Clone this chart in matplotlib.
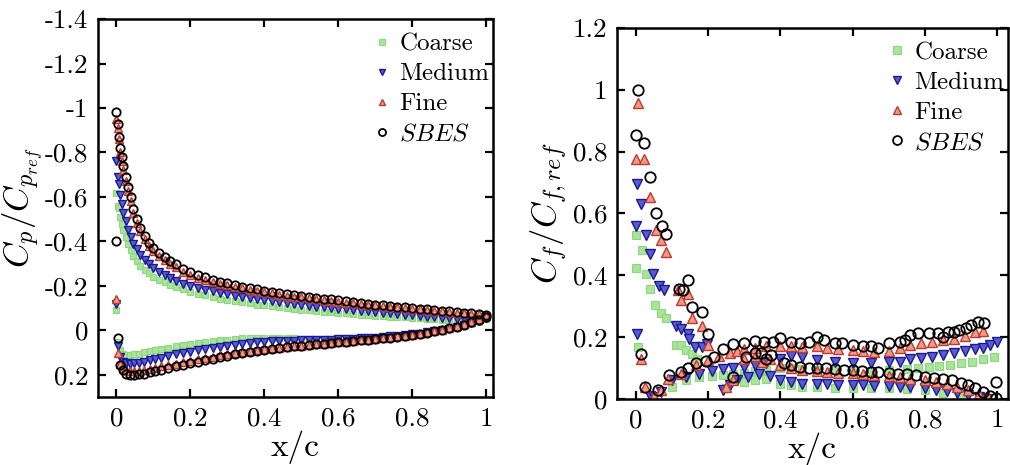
import matplotlib
matplotlib.use("Agg")
import matplotlib.pyplot as plt
from matplotlib.ticker import FuncFormatter, MultipleLocator

plt.rcParams["font.family"] = "serif"
plt.rcParams["font.serif"] = ["cmr10", "DejaVu Serif"]
plt.rcParams["mathtext.fontset"] = "cm"
plt.rcParams["axes.unicode_minus"] = False
plt.rcParams["axes.formatter.use_mathtext"] = False

# ---------------- left panel: Cp / Cp,ref ----------------
x_up = [0.0, 0.003, 0.006, 0.01, 0.014, 0.019, 0.025, 0.031, 0.038, 0.046,
        0.055, 0.065, 0.076, 0.088, 0.1, 0.115, 0.13, 0.145, 0.16, 0.18, 0.2,
        0.22, 0.24, 0.26, 0.28, 0.3, 0.32, 0.34, 0.36, 0.38, 0.4,
        0.42, 0.44, 0.46, 0.48, 0.5, 0.52, 0.54, 0.56, 0.58, 0.6,
        0.62, 0.64, 0.66, 0.68, 0.7, 0.72, 0.74, 0.76, 0.78, 0.8,
        0.82, 0.84, 0.86, 0.88, 0.9, 0.92, 0.94, 0.96, 0.98, 1.0]

cp_up_sbes = [-0.98, -0.93, -0.87, -0.82, -0.78, -0.74, -0.69, -0.645, -0.60, -0.545,
              -0.50, -0.46, -0.425, -0.395, -0.37, -0.35, -0.33, -0.312, -0.297, -0.278, -0.262,
              -0.249, -0.238, -0.228, -0.219, -0.211, -0.203, -0.196, -0.19, -0.184, -0.178,
              -0.173, -0.168, -0.163, -0.159, -0.155, -0.151, -0.147, -0.143, -0.139, -0.135,
              -0.131, -0.127, -0.123, -0.119, -0.115, -0.112, -0.109, -0.106, -0.103, -0.1,
              -0.097, -0.094, -0.091, -0.088, -0.085, -0.082, -0.079, -0.076, -0.073, -0.07]
cp_up_fine = [-0.95, -0.91, -0.86, -0.80, -0.76, -0.72, -0.67, -0.625, -0.58, -0.53,
              -0.485, -0.445, -0.41, -0.38, -0.355, -0.335, -0.315, -0.298, -0.283, -0.264, -0.248,
              -0.236, -0.226, -0.217, -0.209, -0.202, -0.195, -0.189, -0.183, -0.177, -0.171,
              -0.166, -0.161, -0.156, -0.152, -0.148, -0.144, -0.14, -0.136, -0.132, -0.128,
              -0.125, -0.122, -0.119, -0.116, -0.113, -0.11, -0.107, -0.104, -0.101, -0.098,
              -0.095, -0.092, -0.089, -0.086, -0.083, -0.08, -0.077, -0.074, -0.072, -0.07]
cp_up_medium = [-0.76, -0.69, -0.66, -0.61, -0.57, -0.53, -0.49, -0.45, -0.42, -0.39,
                -0.365, -0.34, -0.318, -0.298, -0.28, -0.262, -0.247, -0.234, -0.223, -0.21, -0.199,
                -0.19, -0.182, -0.175, -0.168, -0.162, -0.156, -0.15, -0.145, -0.14, -0.135,
                -0.13, -0.126, -0.122, -0.118, -0.114, -0.11, -0.107, -0.104, -0.101, -0.098,
                -0.095, -0.092, -0.089, -0.086, -0.083, -0.08, -0.077, -0.074, -0.071, -0.068,
                -0.065, -0.062, -0.059, -0.056, -0.054, -0.052, -0.05, -0.049, -0.05, -0.055]
cp_up_coarse = [-0.62, -0.56, -0.55, -0.51, -0.48, -0.45, -0.42, -0.39, -0.36, -0.335,
                -0.31, -0.29, -0.272, -0.256, -0.242, -0.228, -0.216, -0.205, -0.196, -0.184, -0.174,
                -0.165, -0.157, -0.15, -0.143, -0.137, -0.131, -0.126, -0.121, -0.116, -0.112,
                -0.108, -0.104, -0.1, -0.096, -0.093, -0.09, -0.087, -0.084, -0.081, -0.078,
                -0.076, -0.073, -0.071, -0.068, -0.066, -0.064, -0.062, -0.06, -0.058, -0.056,
                -0.054, -0.052, -0.05, -0.048, -0.047, -0.046, -0.045, -0.045, -0.047, -0.05]

x_lo = [0.0, 0.004, 0.01, 0.018, 0.027, 0.037, 0.048, 0.06, 0.075, 0.09,
        0.105, 0.12, 0.14, 0.16, 0.18, 0.2,
        0.22, 0.24, 0.26, 0.28, 0.3, 0.32, 0.34, 0.36, 0.38, 0.4,
        0.42, 0.44, 0.46, 0.48, 0.5, 0.52, 0.54, 0.56, 0.58, 0.6,
        0.62, 0.64, 0.66, 0.68, 0.7, 0.72, 0.74, 0.76, 0.78, 0.8,
        0.82, 0.84, 0.86, 0.88, 0.9, 0.92, 0.94, 0.96, 0.98, 1.0]

cp_lo_sbes = [-0.40, 0.035, 0.155, 0.18, 0.195, 0.2, 0.2, 0.198, 0.194, 0.188,
              0.182, 0.177, 0.17, 0.162, 0.155, 0.148,
              0.141, 0.134, 0.127, 0.12, 0.114, 0.108, 0.102, 0.097, 0.092, 0.088,
              0.084, 0.08, 0.076, 0.072, 0.069, 0.066, 0.063, 0.06, 0.057, 0.054,
              0.051, 0.048, 0.045, 0.042, 0.039, 0.036, 0.032, 0.028, 0.024, 0.02,
              0.015, 0.01, 0.004, -0.002, -0.009, -0.017, -0.026, -0.036, -0.048, -0.062]
cp_lo_fine = [-0.14, 0.10, 0.15, 0.17, 0.18, 0.183, 0.183, 0.181, 0.177, 0.172,
              0.167, 0.162, 0.156, 0.149, 0.142, 0.136,
              0.13, 0.124, 0.118, 0.112, 0.107, 0.102, 0.097, 0.093, 0.089, 0.085,
              0.081, 0.077, 0.074, 0.071, 0.068, 0.065, 0.062, 0.059, 0.056, 0.053,
              0.05, 0.047, 0.044, 0.041, 0.038, 0.035, 0.031, 0.027, 0.023, 0.019,
              0.014, 0.009, 0.003, -0.003, -0.01, -0.018, -0.027, -0.037, -0.049, -0.065]
cp_lo_medium = [-0.12, 0.07, 0.12, 0.14, 0.148, 0.15, 0.148, 0.145, 0.14, 0.134,
                0.128, 0.122, 0.115, 0.108, 0.101, 0.095,
                0.089, 0.083, 0.078, 0.073, 0.068, 0.064, 0.06, 0.056, 0.053, 0.05,
                0.049, 0.048, 0.047, 0.046, 0.045, 0.044, 0.043, 0.042, 0.041, 0.04,
                0.039, 0.038, 0.036, 0.034, 0.032, 0.03, 0.027, 0.024, 0.021, 0.018,
                0.014, 0.009, 0.004, -0.002, -0.008, -0.016, -0.024, -0.033, -0.043, -0.054]
cp_lo_coarse = [-0.09, 0.05, 0.09, 0.105, 0.11, 0.11, 0.108, 0.104, 0.099, 0.094,
                0.089, 0.084, 0.078, 0.072, 0.067, 0.062,
                0.057, 0.053, 0.049, 0.045, 0.042, 0.039, 0.036, 0.034, 0.032, 0.032,
                0.033, 0.034, 0.035, 0.036, 0.037, 0.037, 0.037, 0.037, 0.037, 0.036,
                0.035, 0.034, 0.033, 0.032, 0.031, 0.029, 0.027, 0.025, 0.022, 0.019,
                0.015, 0.011, 0.006, 0.0, -0.006, -0.013, -0.021, -0.03, -0.04, -0.05]

# ---------------- right panel: Cf / Cf,ref ----------------
# suction side (s) and pressure side (p) point sets
xs_sbes = [0.0, 0.006, 0.022, 0.038, 0.056, 0.072, 0.084, 0.118, 0.13, 0.145,
           0.155, 0.184, 0.2, 0.27, 0.306, 0.33, 0.345, 0.36, 0.375, 0.41,
           0.43, 0.455, 0.48, 0.5, 0.525, 0.55, 0.575, 0.6, 0.625, 0.65,
           0.67, 0.7, 0.725, 0.75, 0.775, 0.8, 0.825, 0.85, 0.875, 0.9,
           0.92, 0.94, 0.96, 0.98, 0.997]
cfs_sbes = [0.854, 1.0, 0.827, 0.717, 0.602, 0.56, 0.532, 0.357, 0.352, 0.384,
            0.297, 0.281, 0.209, 0.072, 0.137, 0.15, 0.148, 0.13, 0.142, 0.115,
            0.11, 0.105, 0.1, 0.099, 0.099, 0.097, 0.094, 0.094, 0.09, 0.088,
            0.087, 0.085, 0.082, 0.08, 0.077, 0.072, 0.067, 0.064, 0.06, 0.052,
            0.044, 0.035, 0.022, 0.01, 0.004]
xp_sbes = [0.013, 0.025, 0.06, 0.093, 0.124, 0.145, 0.165, 0.193, 0.215, 0.24,
           0.27, 0.3, 0.33, 0.355, 0.38, 0.4, 0.43, 0.455, 0.48, 0.5,
           0.52, 0.55, 0.57, 0.6, 0.63, 0.65, 0.67, 0.7, 0.73, 0.745,
           0.76, 0.78, 0.81, 0.835, 0.85, 0.865, 0.88, 0.895, 0.913, 0.927,
           0.946, 0.964, 0.998]
cfp_sbes = [0.146, 0.04, 0.03, 0.076, 0.086, 0.1, 0.116, 0.124, 0.137, 0.162,
            0.178, 0.18, 0.188, 0.185, 0.183, 0.196, 0.185, 0.18, 0.185, 0.2,
            0.19, 0.18, 0.18, 0.175, 0.17, 0.17, 0.165, 0.18, 0.185, 0.19,
            0.207, 0.212, 0.212, 0.212, 0.2, 0.218, 0.215, 0.223, 0.228, 0.239,
            0.25, 0.245, 0.055]

xs_fine = [0.006, 0.0, 0.022, 0.038, 0.056, 0.07, 0.084, 0.116, 0.125, 0.145,
           0.155, 0.184, 0.2, 0.25, 0.27, 0.3, 0.33, 0.35, 0.37, 0.4,
           0.43, 0.46, 0.5, 0.53, 0.56, 0.6, 0.63, 0.66, 0.7, 0.73,
           0.76, 0.8, 0.83, 0.86, 0.89, 0.92, 0.95, 0.975]
cfs_fine = [0.957, 0.775, 0.775, 0.652, 0.546, 0.514, 0.476, 0.351, 0.319, 0.34,
            0.263, 0.235, 0.173, 0.04, 0.06, 0.13, 0.14, 0.12, 0.13, 0.11,
            0.1, 0.095, 0.09, 0.088, 0.085, 0.083, 0.08, 0.078, 0.075, 0.07,
            0.066, 0.06, 0.055, 0.05, 0.04, 0.03, 0.015, 0.005]
xp_fine = [0.013, 0.025, 0.05, 0.07, 0.09, 0.125, 0.165, 0.2, 0.23, 0.26,
           0.28, 0.3, 0.33, 0.36, 0.4, 0.43, 0.46, 0.5, 0.53, 0.56,
           0.6, 0.63, 0.66, 0.7, 0.73, 0.76, 0.79, 0.82, 0.85, 0.88,
           0.91, 0.94, 0.96]
cfp_fine = [0.13, 0.038, 0.01, 0.03, 0.065, 0.08, 0.11, 0.125, 0.14, 0.15,
            0.155, 0.16, 0.165, 0.17, 0.17, 0.172, 0.168, 0.17, 0.165, 0.16,
            0.158, 0.155, 0.152, 0.155, 0.165, 0.175, 0.18, 0.185, 0.19, 0.195,
            0.205, 0.215, 0.22]

xs_medium = [0.002, 0.013, 0.0, 0.027, 0.038, 0.047, 0.065, 0.079, 0.11, 0.124,
             0.143, 0.147, 0.164, 0.182, 0.197, 0.24, 0.26, 0.28, 0.31, 0.34,
             0.37, 0.4, 0.43, 0.46, 0.5, 0.53, 0.56, 0.6, 0.63, 0.66,
             0.7, 0.73, 0.76, 0.8, 0.83, 0.86, 0.89, 0.92, 0.95, 0.97]
cfs_medium = [0.694, 0.632, 0.56, 0.53, 0.47, 0.405, 0.365, 0.351, 0.235, 0.227,
              0.211, 0.195, 0.168, 0.168, 0.178, 0.03, 0.045, 0.06, 0.07, 0.08,
              0.075, 0.06, 0.055, 0.05, 0.048, 0.047, 0.046, 0.045, 0.044, 0.043,
              0.042, 0.04, 0.038, 0.035, 0.03, 0.025, 0.02, 0.012, 0.005, 0.0]
xp_medium = [0.004, 0.038, 0.05, 0.07, 0.1, 0.138, 0.175, 0.21, 0.24, 0.27,
             0.3, 0.33, 0.36, 0.4, 0.43, 0.46, 0.5, 0.55, 0.6, 0.65,
             0.7, 0.73, 0.76, 0.79, 0.82, 0.85, 0.88, 0.91, 0.94, 0.96,
             0.98, 1.0]
cfp_medium = [0.211, 0.011, 0.005, 0.022, 0.06, 0.07, 0.081, 0.092, 0.097, 0.1,
              0.105, 0.11, 0.115, 0.13, 0.14, 0.135, 0.125, 0.12, 0.115, 0.115,
              0.118, 0.121, 0.128, 0.133, 0.137, 0.143, 0.148, 0.155, 0.16, 0.165,
              0.175, 0.185]

xs_coarse = [0.0, 0.018, 0.0, 0.027, 0.038, 0.052, 0.07, 0.082, 0.11, 0.124,
             0.138, 0.155, 0.17, 0.25, 0.27, 0.3, 0.33, 0.36, 0.4, 0.43,
             0.46, 0.5, 0.55, 0.6, 0.65, 0.7, 0.75, 0.8, 0.85, 0.9, 0.95]
cfs_coarse = [0.53, 0.481, 0.422, 0.405, 0.355, 0.305, 0.278, 0.263, 0.175, 0.173,
              0.159, 0.145, 0.13, 0.035, 0.07, 0.055, 0.06, 0.065, 0.05, 0.045,
              0.04, 0.038, 0.037, 0.036, 0.035, 0.034, 0.032, 0.028, 0.02, 0.01, 0.0]
xp_coarse = [0.006, 0.1, 0.138, 0.175, 0.21, 0.24, 0.27, 0.3, 0.33, 0.36,
             0.4, 0.43, 0.46, 0.5, 0.55, 0.6, 0.65, 0.7, 0.75, 0.78,
             0.81, 0.84, 0.87, 0.9, 0.93, 0.96, 0.99]
cfp_coarse = [0.168, 0.038, 0.06, 0.072, 0.075, 0.078, 0.08, 0.085, 0.09, 0.095,
              0.1, 0.1, 0.098, 0.095, 0.093, 0.092, 0.092, 0.093, 0.097, 0.1,
              0.103, 0.107, 0.11, 0.115, 0.12, 0.128, 0.137]

labels = ["Coarse", "Medium", "Fine", r"$SBES$"]
styles = [
    dict(marker="s", ms=4.5, mfc="#a8e49a", mec="#8fd67f", mew=0.8),
    dict(marker="v", ms=5.5, mfc="#5a5ad0", mec="#1a1a90", mew=1.0),
    dict(marker="^", ms=5.5, mfc="#ee9a8a", mec="#c0392b", mew=1.0),
    dict(marker="o", ms=6, mfc="none", mec="black", mew=1.3),
]

left_series = [
    (cp_up_coarse, cp_lo_coarse),
    (cp_up_medium, cp_lo_medium),
    (cp_up_fine, cp_lo_fine),
    (cp_up_sbes, cp_lo_sbes),
]
right_series = [
    (xs_coarse, cfs_coarse, xp_coarse, cfp_coarse),
    (xs_medium, cfs_medium, xp_medium, cfp_medium),
    (xs_fine, cfs_fine, xp_fine, cfp_fine),
    (xs_sbes, cfs_sbes, xp_sbes, cfp_sbes),
]

fmt = FuncFormatter(lambda v, p: f"{v:g}")

fig = plt.figure(figsize=(10.1, 4.65), dpi=100)
ax1 = fig.add_axes([0.097, 0.146, 0.391, 0.813])
ax2 = fig.add_axes([0.611, 0.142, 0.387, 0.798])

for (up, lo), lab, st in zip(left_series, labels, styles):
    ax1.plot(x_up + x_lo, up + lo, ls="none", label=lab, **st)

for (xs, cs, xp, cp), lab, st in zip(right_series, labels, styles):
    st2 = dict(st)
    st2["ms"] = st["ms"] + 1.5
    ax2.plot(xs + xp, cs + cp, ls="none", label=lab, **st2)

ax1.set_xlim(-0.05, 1.018)
ax1.set_ylim(0.3, -1.4)
ax1.yaxis.set_major_locator(MultipleLocator(0.2))
ax1.set_ylabel(r"$C_p/C_{p_{ref}}$", fontsize=25, labelpad=0)

ax2.set_xlim(-0.052, 1.03)
ax2.set_ylim(0, 1.2)
ax2.yaxis.set_major_locator(MultipleLocator(0.2))
ax2.set_ylabel(r"$C_f/C_{f,ref}$", fontsize=25, labelpad=2)

for ax in (ax1, ax2):
    ax.xaxis.set_major_locator(MultipleLocator(0.2))
    ax.xaxis.set_major_formatter(fmt)
    ax.yaxis.set_major_formatter(fmt)
    ax.set_xlabel("x/c", fontsize=24, labelpad=0)
    ax.tick_params(direction="in", top=True, right=True, length=6, width=1.6,
                   labelsize=19.5, pad=7)
    for sp in ax.spines.values():
        sp.set_linewidth(1.8)
    ax.legend(loc="upper right", bbox_to_anchor=(1.035, 1.01), frameon=False,
              fontsize=18, handletextpad=0.1, labelspacing=0.3,
              markerscale=0.85, handlelength=1.2, borderaxespad=0.3)

fig.savefig("out.png", dpi=100)
